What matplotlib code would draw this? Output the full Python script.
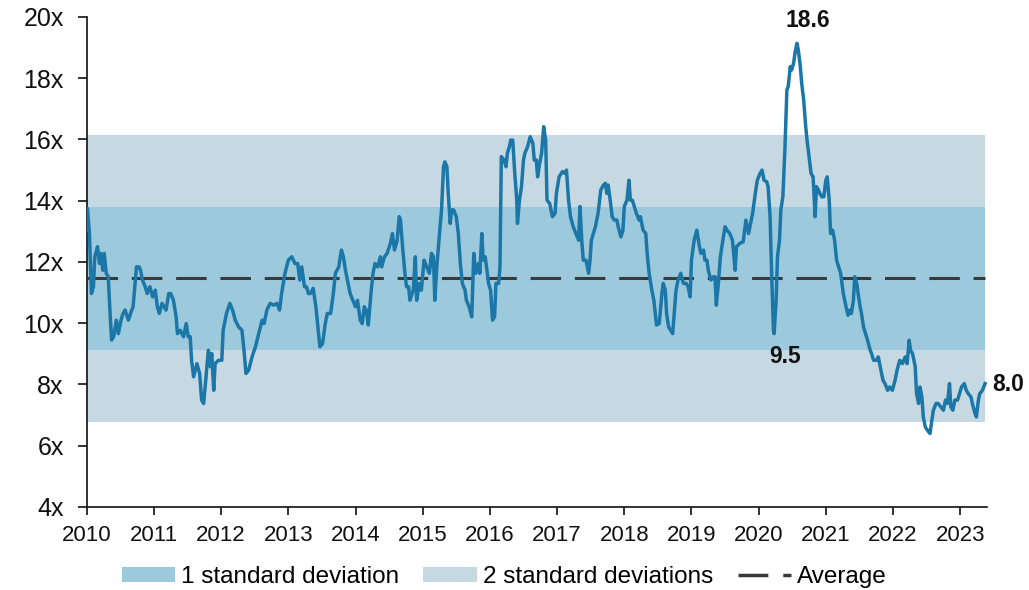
"""Forward P/E multiple since 2010 with 1 and 2 standard deviation bands."""
import matplotlib
matplotlib.use("Agg")
import matplotlib.pyplot as plt
from matplotlib.patches import Patch
from matplotlib.lines import Line2D

plt.rcParams["font.family"] = ["Liberation Sans", "DejaVu Sans"]

# decimal year, multiple
years = [
    2010.00, 2010.01, 2010.04, 2010.07, 2010.10, 2010.12, 2010.16, 2010.19, 2010.21, 2010.24,
    2010.26, 2010.29, 2010.32, 2010.35, 2010.37, 2010.40, 2010.44, 2010.47, 2010.51, 2010.54,
    2010.57, 2010.62, 2010.66, 2010.69, 2010.74, 2010.78, 2010.80, 2010.83, 2010.87, 2010.90,
    2010.94, 2010.98, 2011.02, 2011.05, 2011.08, 2011.12, 2011.15, 2011.18, 2011.22, 2011.25,
    2011.29, 2011.33, 2011.35, 2011.39, 2011.44, 2011.48, 2011.51, 2011.54, 2011.56, 2011.59,
    2011.64, 2011.68, 2011.71, 2011.74, 2011.78, 2011.81, 2011.84, 2011.86, 2011.89, 2011.91,
    2011.96, 2012.01, 2012.03, 2012.08, 2012.13, 2012.17, 2012.21, 2012.26, 2012.31, 2012.34,
    2012.37, 2012.41, 2012.46, 2012.51, 2012.56, 2012.61, 2012.64, 2012.68, 2012.73, 2012.78,
    2012.83, 2012.87, 2012.90, 2012.95, 2013.00, 2013.05, 2013.10, 2013.14, 2013.17, 2013.20,
    2013.24, 2013.27, 2013.30, 2013.33, 2013.37, 2013.41, 2013.45, 2013.47, 2013.51, 2013.55,
    2013.58, 2013.63, 2013.67, 2013.70, 2013.75, 2013.79, 2013.82, 2013.85, 2013.88, 2013.92,
    2013.96, 2014.00, 2014.03, 2014.07, 2014.10, 2014.13, 2014.16, 2014.19, 2014.23, 2014.26,
    2014.29, 2014.33, 2014.37, 2014.39, 2014.43, 2014.47, 2014.52, 2014.55, 2014.58, 2014.62,
    2014.65, 2014.67, 2014.70, 2014.74, 2014.76, 2014.79, 2014.81, 2014.86, 2014.89, 2014.91,
    2014.95, 2014.98, 2015.02, 2015.06, 2015.10, 2015.13, 2015.16, 2015.18, 2015.21, 2015.25,
    2015.28, 2015.31, 2015.33, 2015.36, 2015.38, 2015.41, 2015.43, 2015.46, 2015.50, 2015.53,
    2015.56, 2015.59, 2015.63, 2015.65, 2015.69, 2015.73, 2015.76, 2015.79, 2015.83, 2015.85,
    2015.88, 2015.90, 2015.93, 2015.95, 2015.98, 2016.01, 2016.04, 2016.07, 2016.09, 2016.13,
    2016.15, 2016.17, 2016.21, 2016.24, 2016.26, 2016.29, 2016.31, 2016.34, 2016.37, 2016.40,
    2016.41, 2016.44, 2016.47, 2016.50, 2016.52, 2016.56, 2016.60, 2016.64, 2016.66, 2016.69,
    2016.71, 2016.74, 2016.77, 2016.80, 2016.83, 2016.85, 2016.89, 2016.93, 2016.97, 2016.99,
    2017.03, 2017.08, 2017.12, 2017.14, 2017.17, 2017.20, 2017.24, 2017.28, 2017.32, 2017.34,
    2017.37, 2017.39, 2017.43, 2017.47, 2017.49, 2017.51, 2017.54, 2017.57, 2017.61, 2017.65,
    2017.69, 2017.72, 2017.74, 2017.76, 2017.79, 2017.82, 2017.85, 2017.89, 2017.91, 2017.95,
    2017.98, 2018.00, 2018.04, 2018.07, 2018.09, 2018.12, 2018.15, 2018.18, 2018.22, 2018.24,
    2018.28, 2018.32, 2018.34, 2018.37, 2018.41, 2018.44, 2018.48, 2018.52, 2018.56, 2018.58,
    2018.61, 2018.63, 2018.66, 2018.69, 2018.72, 2018.74, 2018.77, 2018.80, 2018.84, 2018.88,
    2018.92, 2018.95, 2018.98, 2019.00, 2019.04, 2019.08, 2019.11, 2019.14, 2019.18, 2019.20,
    2019.23, 2019.25, 2019.29, 2019.33, 2019.35, 2019.37, 2019.40, 2019.43, 2019.46, 2019.50,
    2019.53, 2019.57, 2019.61, 2019.65, 2019.67, 2019.72, 2019.77, 2019.81, 2019.85, 2019.87,
    2019.91, 2019.95, 2019.98, 2020.02, 2020.05, 2020.08, 2020.12, 2020.14, 2020.17, 2020.19,
    2020.22, 2020.23, 2020.26, 2020.28, 2020.31, 2020.33, 2020.36, 2020.39, 2020.42, 2020.44,
    2020.47, 2020.49, 2020.52, 2020.54, 2020.57, 2020.59, 2020.62, 2020.64, 2020.67, 2020.70,
    2020.72, 2020.75, 2020.78, 2020.81, 2020.84, 2020.86, 2020.89, 2020.91, 2020.94, 2020.97,
    2021.00, 2021.02, 2021.05, 2021.07, 2021.10, 2021.13, 2021.16, 2021.19, 2021.22, 2021.26,
    2021.30, 2021.33, 2021.36, 2021.38, 2021.41, 2021.43, 2021.46, 2021.48, 2021.51, 2021.53,
    2021.56, 2021.59, 2021.62, 2021.66, 2021.68, 2021.71, 2021.75, 2021.78, 2021.82, 2021.85,
    2021.88, 2021.92, 2021.95, 2021.99, 2022.03, 2022.06, 2022.10, 2022.14, 2022.18, 2022.21,
    2022.24, 2022.26, 2022.29, 2022.33, 2022.35, 2022.38, 2022.40, 2022.43, 2022.45, 2022.48,
    2022.51, 2022.55, 2022.57, 2022.60, 2022.64, 2022.67, 2022.71, 2022.75, 2022.78, 2022.81,
    2022.84, 2022.86, 2022.89, 2022.92, 2022.96, 2022.99, 2023.02, 2023.06, 2023.09, 2023.12,
    2023.16, 2023.18, 2023.22, 2023.24, 2023.27, 2023.29, 2023.33, 2023.37,
]
multiple = [
    13.04, 13.75, 12.93, 10.97, 11.19, 12.17, 12.50, 11.95, 12.28, 11.73,
    12.28, 11.63, 11.52, 10.21, 9.45, 9.56, 10.10, 9.66, 10.10, 10.32,
    10.43, 10.10, 10.37, 10.54, 11.84, 11.84, 11.73, 11.41, 11.19, 10.97,
    11.19, 10.86, 11.08, 10.54, 10.32, 10.65, 10.54, 10.43, 10.97, 10.97,
    10.75, 10.21, 9.66, 9.77, 9.56, 9.99, 9.56, 9.56, 8.79, 8.25,
    8.68, 8.36, 7.49, 7.38, 8.36, 9.12, 8.58, 9.01, 7.81, 8.68,
    8.79, 8.79, 9.77, 10.32, 10.65, 10.43, 10.10, 9.88, 9.77, 9.12,
    8.36, 8.47, 8.90, 9.23, 9.66, 10.10, 9.99, 10.43, 10.65, 10.59,
    10.65, 10.43, 10.97, 11.63, 12.06, 12.17, 11.95, 11.95, 11.41, 11.84,
    11.19, 11.19, 10.97, 10.97, 11.14, 10.54, 9.66, 9.23, 9.34, 9.99,
    10.32, 10.32, 10.97, 11.63, 11.84, 12.39, 12.17, 11.73, 11.41, 10.97,
    10.75, 10.54, 10.75, 10.10, 9.99, 10.54, 10.43, 9.94, 10.97, 11.63,
    11.95, 11.84, 12.17, 11.84, 12.17, 12.28, 12.61, 12.93, 12.39, 12.71,
    13.48, 13.37, 12.50, 11.52, 11.19, 11.19, 10.75, 11.08, 12.17, 10.75,
    11.30, 11.08, 12.06, 11.84, 11.63, 12.28, 12.17, 10.75, 11.84, 12.93,
    13.70, 15.11, 15.27, 15.11, 14.24, 13.26, 13.70, 13.70, 13.48, 12.93,
    11.95, 11.30, 11.08, 10.75, 10.54, 10.21, 12.28, 11.63, 11.95, 11.63,
    12.93, 12.06, 12.17, 11.84, 11.30, 11.08, 10.10, 10.21, 11.30, 11.30,
    11.84, 15.44, 15.33, 15.11, 15.55, 15.76, 15.98, 15.98, 14.89, 14.02,
    13.26, 14.02, 14.46, 15.33, 15.55, 15.76, 16.09, 15.87, 15.33, 15.33,
    14.78, 15.22, 15.55, 16.42, 15.98, 14.02, 13.91, 13.48, 13.59, 14.24,
    14.78, 14.95, 14.89, 15.00, 14.02, 13.48, 13.15, 12.93, 12.71, 13.81,
    12.61, 12.06, 12.06, 11.63, 12.06, 12.71, 12.93, 13.15, 13.59, 14.35,
    14.51, 14.57, 14.24, 14.51, 14.02, 13.48, 13.37, 13.37, 13.15, 12.82,
    13.04, 13.81, 14.02, 14.67, 14.02, 14.02, 13.81, 13.59, 13.37, 13.48,
    13.04, 12.93, 12.28, 11.63, 11.08, 10.75, 9.94, 9.99, 10.97, 11.30,
    11.08, 10.32, 9.88, 9.77, 9.66, 10.21, 11.08, 11.41, 11.63, 11.30,
    11.30, 11.19, 10.86, 12.06, 12.71, 13.04, 12.61, 12.28, 12.39, 12.06,
    12.06, 11.73, 11.41, 11.52, 11.52, 10.59, 11.30, 12.17, 12.61, 13.15,
    13.04, 12.93, 12.71, 11.73, 12.50, 12.61, 12.66, 13.37, 12.93, 13.15,
    13.59, 14.24, 14.67, 14.89, 15.00, 14.67, 14.62, 14.46, 13.48, 11.84,
    9.77, 9.66, 10.75, 12.17, 12.71, 13.70, 14.13, 15.66, 17.62, 17.73,
    18.38, 18.27, 18.49, 18.82, 19.14, 18.92, 18.38, 17.84, 17.29, 16.42,
    15.98, 15.44, 14.89, 14.78, 13.48, 14.46, 14.35, 14.24, 14.13, 14.13,
    14.67, 14.78, 14.02, 12.93, 13.04, 12.71, 12.06, 11.84, 11.63, 10.97,
    10.54, 10.26, 10.43, 10.32, 10.75, 11.52, 11.30, 10.97, 10.54, 10.32,
    9.88, 9.66, 9.45, 9.12, 9.01, 8.79, 8.79, 8.90, 8.47, 8.14,
    8.03, 7.81, 7.92, 7.81, 8.14, 8.47, 8.79, 8.68, 8.90, 8.68,
    9.45, 9.12, 9.01, 8.58, 7.70, 7.38, 7.92, 7.59, 6.94, 6.61,
    6.51, 6.40, 6.72, 7.16, 7.38, 7.38, 7.27, 7.16, 7.49, 7.38,
    8.03, 7.27, 7.16, 7.49, 7.49, 7.70, 7.92, 8.03, 7.81, 7.70,
    7.59, 7.38, 7.05, 6.94, 7.49, 7.70, 7.81, 8.03,
]

average = 11.47
std_dev = 2.34
year_ticks = list(range(2010, 2024))
y_ticks = [4, 6, 8, 10, 12, 14, 16, 18, 20]

# annotations: (label, x, y)
callouts = [("18.6", 2020.73, 19.9), ("9.5", 2020.39, 8.9), ("8.0", 2023.48, 8.0)]

LINE = "#1b77a8"
BAND1 = "#9dc9dc"
BAND2 = "#c6d9e2"
AVG = "#3a3a3a"

fig = plt.figure(figsize=(10.29, 5.90), dpi=100)
ax = fig.add_axes([0.0843, 0.1407, 0.875, 0.8305])

x0, x1 = years[0], years[-1]
ax.fill_between([x0, x1], average - 2 * std_dev, average + 2 * std_dev,
                color=BAND2, lw=0, zorder=1)
ax.fill_between([x0, x1], average - std_dev, average + std_dev,
                color=BAND1, lw=0, zorder=2)
ax.plot([x0, x1], [average, average], color=AVG, lw=2.2,
        ls=(0, (10, 4.5)), zorder=3)
ax.plot(years, multiple, color=LINE, lw=2.5, zorder=4, solid_joinstyle="round")

for label, x, y in callouts:
    ha = "left" if label == "8.0" else "center"
    ax.text(x, y, label, ha=ha, va="center", fontsize=16.5, fontweight="bold",
            color="#111111", clip_on=False)

ax.set_xlim(2010, 2023.40)
ax.set_ylim(4, 20)
ax.set_xticks(year_ticks)
ax.set_xticklabels([str(y) for y in year_ticks])
ax.set_yticks(y_ticks)
ax.set_yticklabels([f"{y}x" for y in y_ticks])
ax.tick_params(axis="y", direction="out", length=6.5, width=1.2, pad=10,
               labelsize=18, colors="#111111")
ax.tick_params(axis="x", direction="out", length=6, width=1.2, pad=7,
               labelsize=16, colors="#111111")
for side in ("top", "right"):
    ax.spines[side].set_visible(False)
for side in ("left", "bottom"):
    ax.spines[side].set_linewidth(1.2)
    ax.spines[side].set_color("#111111")

handles = [
    Patch(facecolor=BAND1, edgecolor="none", label="1 standard deviation"),
    Patch(facecolor=BAND2, edgecolor="none", label="2 standard deviations"),
    Line2D([], [], color=AVG, lw=2.5, ls=(0, (8.6, 4.3)), label="Average"),
]
fig.legend(handles=handles, loc="center", bbox_to_anchor=(0.49, 0.022), ncol=3,
           frameon=False, fontsize=17.5, handlelength=2.2, handleheight=0.55,
           handletextpad=0.25, columnspacing=1.0, borderaxespad=0)

fig.savefig("out.png", dpi=100)
